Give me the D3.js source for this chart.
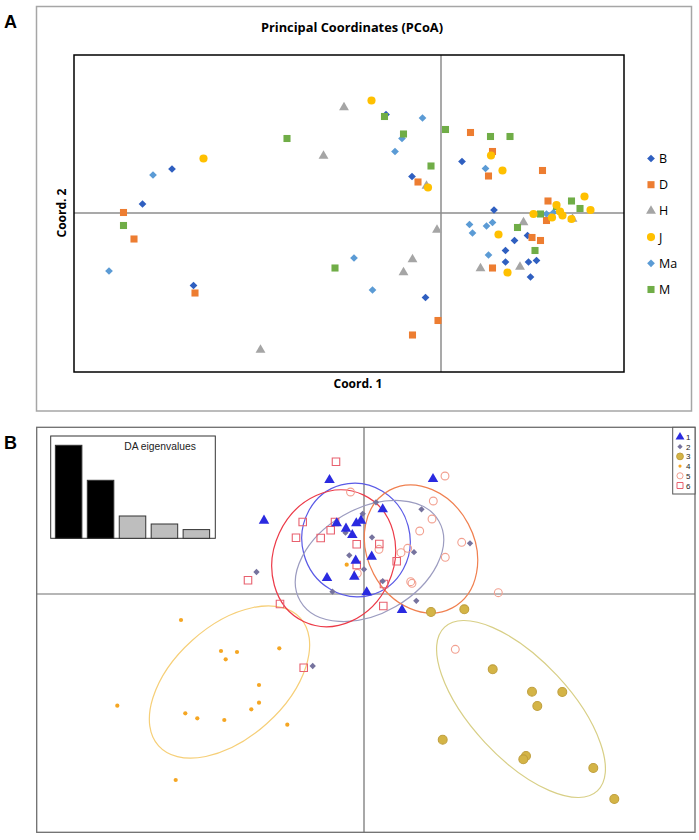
<!DOCTYPE html>
<html><head><meta charset="utf-8">
<script src="https://cdn.jsdelivr.net/npm/d3@7"></script>
<style>body{margin:0;background:#fff}svg{display:block}</style>
</head><body>
<script>
// ---------- Panel A data (PCoA) ----------
const pcoaNames = ["B","D","H","J","Ma","M"];
const pcoaB = [[-0.110,0.197],[-0.538,0.088],[-0.058,0.073],[-0.597,0.018],[-0.495,-0.145],[-0.031,-0.169],[0.042,0.103],[0.106,0.006],[0.173,-0.045],[0.147,-0.055],[0.129,-0.075],[0.129,-0.098],[0.175,-0.098],[0.191,-0.095],[0.179,-0.128]];
const pcoaD = [[-0.046,0.062],[-0.635,0.001],[-0.614,-0.052],[-0.492,-0.160],[-0.006,-0.215],[-0.057,-0.244],[0.059,0.161],[0.103,0.123],[0.203,0.085],[0.095,0.074],[0.214,0.024],[0.211,-0.015],[0.182,-0.049],[0.199,-0.055],[0.103,-0.110]];
const pcoaH = [[-0.194,0.211],[-0.235,0.114],[-0.029,0.054],[-0.008,-0.034],[-0.057,-0.093],[-0.075,-0.119],[-0.361,-0.274],[0.165,-0.019],[0.079,-0.111],[0.158,-0.108],[0.263,-0.012]];
const pcoaJ = [[-0.139,0.225],[-0.475,0.109],[-0.026,0.051],[0.100,0.115],[0.123,0.085],[0.287,0.033],[0.231,0.016],[0.299,0.006],[0.185,-0.002],[0.238,0.003],[0.243,-0.005],[0.222,-0.009],[0.261,-0.012],[0.115,-0.043],[0.133,-0.119]];
const pcoaMa = [[-0.037,0.190],[-0.078,0.149],[-0.092,0.123],[-0.576,0.076],[-0.664,-0.116],[-0.174,-0.090],[-0.137,-0.154],[0.089,0.089],[0.211,-0.002],[0.225,0.001],[0.057,-0.023],[0.063,-0.040],[0.091,-0.026],[0.103,-0.019],[0.095,-0.084]];
const pcoaM = [[-0.113,0.193],[-0.308,0.149],[-0.075,0.158],[-0.020,0.094],[-0.635,-0.025],[-0.212,-0.110],[0.009,0.167],[0.099,0.153],[0.138,0.153],[0.261,0.024],[0.231,0.013],[0.278,0.009],[0.199,-0.002],[0.153,-0.029],[0.188,-0.075]];
const pcoaSeries = [pcoaB,pcoaD,pcoaH,pcoaJ,pcoaMa,pcoaM];
const pcoaDomainX = [-0.734,0.366];
const pcoaDomainY = [-0.318,0.316];

// ---------- Panel B data (DAPC) ----------
const dapcNames = ["1","2","3","4","5","6"];
const dapc1 = [[-0.69,2.28],[-2.00,1.466],[-0.546,1.414],[-0.36,1.306],[-0.234,1.18],[-0.154,1.414],[-0.06,1.466],[0.374,1.694],[0.154,0.746],[-0.166,0.666],[-0.74,0.32],[-0.194,0.346],[0.054,0.034],[0.76,-0.32],[1.38,2.30]];
const dapc2 = [[-2.15,0.44],[0.24,1.834],[-0.026,1.604],[1.15,1.694],[-0.37,1.226],[0.16,1.134],[-0.294,0.774],[0.0,0.494],[1.00,0.836],[0.374,0.256],[-0.63,0.046],[1.046,-0.136],[2.12,1.014],[-1.026,-1.44]];
const dapc3 = [[1.34,-0.36],[2.006,-0.306],[2.574,-1.506],[3.36,-1.954],[3.966,-1.96],[3.466,-2.24],[1.574,-2.914],[3.24,-3.24],[3.186,-3.306],[4.586,-3.48],[5.006,-4.10]];
const dapc4 = [[-3.66,-0.52],[-2.86,-1.14],[-2.54,-1.16],[-2.766,-1.306],[-1.694,-1.086],[-2.10,-1.82],[-2.10,-2.174],[-2.254,-2.306],[-4.934,-2.234],[-3.574,-2.386],[-3.334,-2.486],[-2.794,-2.52],[-1.534,-2.614],[-3.766,-3.72],[-0.346,0.586]];
const dapc5 = [[1.62,2.36],[1.386,1.86],[1.36,1.50],[1.114,1.26],[1.954,1.034],[1.626,0.734],[0.874,0.914],[0.74,0.826],[0.30,0.894],[0.934,0.246],[0.96,0.214],[2.686,0.026],[-0.27,2.04],[-0.134,0.414],[1.826,-1.106]];
const dapc6 = [[-0.56,2.646],[-1.226,1.44],[-0.58,1.44],[-0.666,1.274],[-0.866,1.12],[-1.36,1.126],[-0.146,0.994],[0.306,1.00],[0.654,0.654],[-0.146,0.58],[0.40,0.20],[-1.68,-0.20],[0.386,-0.24],[-2.32,0.274],[-1.206,-1.474]];
const dapcSeries = [dapc1,dapc2,dapc3,dapc4,dapc5,dapc6];
// ellipses: [cx, cy, semi-major, semi-minor, angle (deg, counter-clockwise)]
const dapcEllipses = [[-0.16,1.08,1.14,1.08,-75],[0.11,0.66,1.6,1.05,30],[3.14,-2.30,2.24,0.984,-47],[-2.69,-1.76,1.908,1.118,42],[1.14,0.90,1.334,1.07,-62],[-0.606,0.714,1.40,1.20,65]];
const dapcDomainX = [-6.546,6.62];
const dapcDomainY = [-4.766,3.334];
const eigenValues = [93,58,22.3,14.3,8.7];

// ---------- Drawing ----------
const W=699,H=840;
const svg=d3.select("body").append("svg").attr("width",W).attr("height",H);

// ===== Panel A =====
const fA = "'Open Sans', 'Liberation Sans', sans-serif";
svg.append("rect").attr("x",36.5).attr("y",6.5).attr("width",655).attr("height",404.5)
  .attr("fill","none").attr("stroke","#a6a6a6").attr("stroke-width",1.5);
svg.append("text").attr("x",4).attr("y",28).text("A").attr("font-family","'Liberation Sans',Arial,sans-serif")
  .attr("font-weight","bold").attr("font-size",18).attr("fill","#000");
svg.append("text").attr("x",352).attr("y",32).attr("text-anchor","middle").text("Principal Coordinates (PCoA)")
  .attr("font-family",fA).attr("font-weight","bold").attr("font-size",12.8).attr("fill","#000");

const xA=d3.scaleLinear().domain(pcoaDomainX).range([74,624]);
const yA=d3.scaleLinear().domain(pcoaDomainY).range([372,55]);
const gA=svg.append("g");
gA.append("line").attr("x1",xA(0)).attr("x2",xA(0)).attr("y1",yA.range()[1]).attr("y2",yA.range()[0]).attr("stroke","#8c8c8c").attr("stroke-width",1.5);
gA.append("line").attr("x1",xA.range()[0]).attr("x2",xA.range()[1]).attr("y1",yA(0)).attr("y2",yA(0)).attr("stroke","#8c8c8c").attr("stroke-width",1.5);
gA.append("rect").attr("x",74).attr("y",55).attr("width",550).attr("height",317).attr("fill","none").attr("stroke","#000").attr("stroke-width",1.5);

const colA=["#2f5fc0","#ed7d31","#a5a5a5","#ffc000","#5b9bd5","#70ad47"];
const symA=[
  {t:d3.symbolSquare,s:30,r:45},
  {t:d3.symbolSquare,s:50,r:0},
  {t:d3.symbolTriangle,s:42,r:0},
  {t:d3.symbolCircle,s:52,r:0},
  {t:d3.symbolSquare,s:30,r:45},
  {t:d3.symbolSquare,s:50,r:0}];
const drawOrder=[2,4,0,1,5,3];
drawOrder.forEach(i=>{
  gA.selectAll(null).data(pcoaSeries[i]).enter().append("path")
    .attr("d",d3.symbol().type(symA[i].t).size(symA[i].s))
    .attr("transform",d=>`translate(${xA(d[0])},${yA(d[1])}) rotate(${symA[i].r})`)
    .attr("fill",colA[i]);
});
svg.append("text").attr("transform",`translate(66,${yA(0)}) rotate(-90)`).attr("text-anchor","middle")
  .text("Coord. 2").attr("font-family",fA).attr("font-weight","bold").attr("font-size",12);
svg.append("text").attr("x",358).attr("y",388).attr("text-anchor","middle")
  .text("Coord. 1").attr("font-family",fA).attr("font-weight","bold").attr("font-size",12);
// legend A
const legA=svg.append("g");
pcoaNames.forEach((n,i)=>{
  const y=158.5+i*26.2;
  legA.append("path").attr("d",d3.symbol().type(symA[i].t).size(symA[i].s)).attr("fill",colA[i])
    .attr("transform",`translate(651,${y}) rotate(${symA[i].r})`);
  legA.append("text").attr("x",659).attr("y",y+4.5).text(n).attr("font-family",fA).attr("font-size",12.5).attr("fill","#000");
});

// ===== Panel B =====
const fB="'Liberation Sans',Arial,sans-serif";
svg.append("text").attr("x",4).attr("y",449).text("B").attr("font-family",fB)
  .attr("font-weight","bold").attr("font-size",18).attr("fill","#000");
const xB=d3.scaleLinear().domain(dapcDomainX).range([36.7,695]);
const yB=d3.scaleLinear().domain(dapcDomainY).range([832.3,427.3]);
const gB=svg.append("g");
gB.append("rect").attr("x",36.7).attr("y",427.3).attr("width",695-36.7).attr("height",832.3-427.3)
  .attr("fill","none").attr("stroke","#6e6e6e").attr("stroke-width",1.3);
gB.append("line").attr("x1",xB(0)).attr("x2",xB(0)).attr("y1",427.3).attr("y2",832.3).attr("stroke","#6e6e6e").attr("stroke-width",1.2);
gB.append("line").attr("x1",36.7).attr("x2",695).attr("y1",yB(0)).attr("y2",yB(0)).attr("stroke","#6e6e6e").attr("stroke-width",1.2);

const ellCol=["#5a5ae6","#9c9cc0","#d8cf86","#f6cf78","#f08050","#ec3a48"];
dapcEllipses.forEach((e,i)=>{
  const rx=xB(e[2])-xB(0), ry=yB(0)-yB(e[3]);
  gB.append("ellipse").attr("cx",0).attr("cy",0).attr("rx",rx).attr("ry",ry)
    .attr("transform",`translate(${xB(e[0])},${yB(e[1])}) rotate(${-e[4]})`)
    .attr("fill","none").attr("stroke",ellCol[i]).attr("stroke-width",1.2);
});

const symB=[
  {t:d3.symbolTriangle,s:48,r:0,fill:"#2a2ae0",stroke:"none"},
  {t:d3.symbolSquare,s:20,r:45,fill:"#76739e",stroke:"none"},
  {t:d3.symbolCircle,s:62,r:0,fill:"#d4b446",stroke:"#c0a040"},
  {t:d3.symbolCircle,s:14,r:0,fill:"#f5a623",stroke:"none"},
  {t:d3.symbolCircle,s:48,r:0,fill:"none",stroke:"#f2a090"},
  {t:d3.symbolSquare,s:56,r:0,fill:"none",stroke:"#e8606e"}];
[3,2,4,5,1,0].forEach(i=>{
  gB.selectAll(null).data(dapcSeries[i]).enter().append("path")
    .attr("d",d3.symbol().type(symB[i].t).size(symB[i].s))
    .attr("transform",d=>`translate(${xB(d[0])},${yB(d[1])}) rotate(${symB[i].r})`)
    .attr("fill",symB[i].fill).attr("stroke",symB[i].stroke).attr("stroke-width",1.1);
});

// inset eigenvalues
const gI=svg.append("g");
gI.append("rect").attr("x",50.7).attr("y",436).attr("width",164.6).attr("height",102.3).attr("fill","#fff").attr("stroke","#333").attr("stroke-width",1);
const xI=d3.scaleBand().domain(d3.range(eigenValues.length)).range([52.5,212.5]).paddingInner(0.17).paddingOuter(0.09);
const yI=d3.scaleLinear().domain([0,102.3]).range([538.3,436]);
gI.selectAll(null).data(eigenValues).enter().append("rect")
  .attr("x",(d,i)=>xI(i)).attr("width",xI.bandwidth()).attr("y",d=>yI(d)).attr("height",d=>yI(0)-yI(d))
  .attr("fill",(d,i)=>i<2?"#000":"#bebebe").attr("stroke","#333").attr("stroke-width",1);
gI.append("text").attr("x",160).attr("y",450).attr("text-anchor","middle").text("DA eigenvalues")
  .attr("font-family",fB).attr("font-size",10.3).attr("fill","#222");

// legend B
const gL=svg.append("g");
gL.append("rect").attr("x",672.7).attr("y",427.3).attr("width",22.3).attr("height",66.7).attr("fill","#fff").attr("stroke","#555").attr("stroke-width",1);
const legSizes=[34,14,36,8,30,36];
dapcNames.forEach((n,i)=>{
  const y=437+i*9.7;
  gL.append("path").attr("d",d3.symbol().type(symB[i].t).size(legSizes[i]))
    .attr("transform",`translate(680,${y}) rotate(${symB[i].r})`)
    .attr("fill",symB[i].fill).attr("stroke",symB[i].stroke).attr("stroke-width",1);
  gL.append("text").attr("x",686).attr("y",y+3).text(n).attr("font-family",fB).attr("font-size",8).attr("fill","#222");
});
</script>
</body></html>
